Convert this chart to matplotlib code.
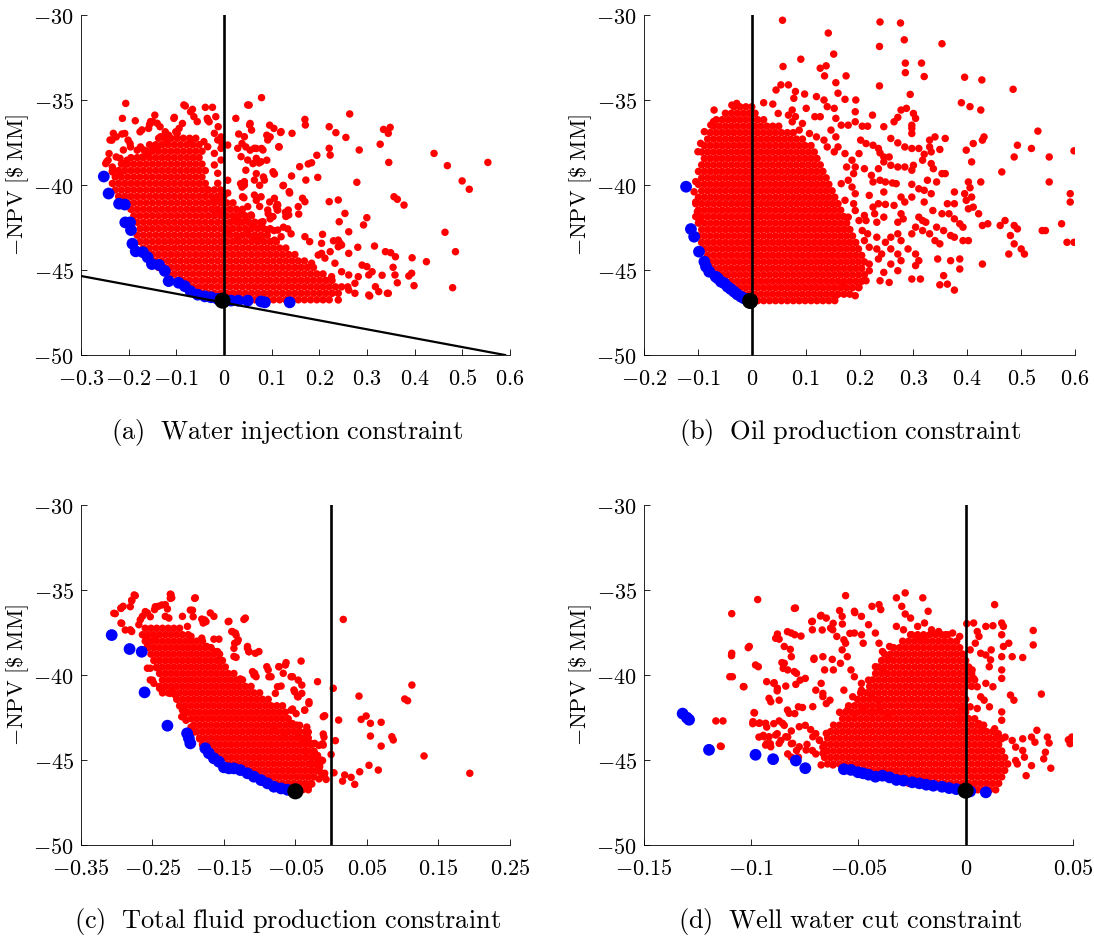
import matplotlib.pyplot as plt

plt.rcParams['mathtext.fontset'] = 'cm'
plt.rcParams['font.family'] = 'DejaVu Serif'

# ----------------------------------------------------------------------
# Perturbed control samples: constraint violation (x) against -NPV (y)
# core rows: (y, x values in units of 1e-3 / 1e-4), fringe: (x, y) pairs

core_a = [
    (-46.75, [-13, 0, 13, 26, 39, 52, 65, 78, 91, 104, 117, 130, 143, 156, 169, 182, 195, 208, 221]),
    (-46.37, [-59, -46, -33, -20, -7, 6, 19, 32, 45, 58, 71, 84, 97, 110, 123, 136, 149, 162, 175, 188, 201, 214, 227, 240]),
    (-45.99, [-78, -65, -52, -39, -26, -13, 0, 13, 26, 39, 52, 65, 78, 91, 104, 117, 130, 143, 156, 169, 182, 195, 208, 221, 234, 247, 260]),
    (-45.61, [-98, -85, -72, -59, -46, -33, -20, -7, 6, 19, 32, 45, 58, 71, 84, 97, 110, 123, 136, 149, 162, 175, 188, 201, 214, 227]),
    (-45.23, [-117, -104, -91, -78, -65, -52, -39, -26, -13, 0, 13, 26, 39, 52, 65, 78, 91, 104, 117, 130, 143, 156, 169, 182, 195, 208]),
    (-44.85, [-137, -124, -111, -98, -85, -72, -59, -46, -33, -20, -7, 6, 19, 32, 45, 58, 71, 84, 97, 110, 123, 136, 149, 162, 175, 188]),
    (-44.47, [-156, -143, -130, -117, -104, -91, -78, -65, -52, -39, -26, -13, 0, 13, 26, 39, 52, 65, 78, 91, 104, 117, 130, 143, 156, 169]),
    (-44.09, [-163, -150, -137, -124, -111, -98, -85, -72, -59, -46, -33, -20, -7, 6, 19, 32, 45, 58, 71, 84, 97, 110, 123, 136, 149]),
    (-43.71, [-169, -156, -143, -130, -117, -104, -91, -78, -65, -52, -39, -26, -13, 0, 13, 26, 39, 52, 65, 78, 91, 104, 117, 130]),
    (-43.33, [-176, -163, -150, -137, -124, -111, -98, -85, -72, -59, -46, -33, -20, -7, 6, 19, 32, 45, 58, 71, 84, 97, 110]),
    (-42.95, [-182, -169, -156, -143, -130, -117, -104, -91, -78, -65, -52, -39, -26, -13, 0, 13, 26, 39, 52, 65, 78, 91]),
    (-42.57, [-176, -163, -150, -137, -124, -111, -98, -85, -72, -59, -46, -33, -20, -7, 6, 19, 32, 45, 58, 71, 84, 97]),
    (-42.19, [-182, -169, -156, -143, -130, -117, -104, -91, -78, -65, -52, -39, -26, -13, 0, 13, 26, 39, 52, 65, 78]),
    (-41.81, [-189, -176, -163, -150, -137, -124, -111, -98, -85, -72, -59, -46, -33, -20, -7, 6, 19, 32, 45, 58]),
    (-41.43, [-195, -182, -169, -156, -143, -130, -117, -104, -91, -78, -65, -52, -39, -26, -13, 0, 13, 26, 39]),
    (-41.05, [-202, -189, -176, -163, -150, -137, -124, -111, -98, -85, -72, -59, -46, -33, -20, -7, 6, 19]),
    (-40.67, [-221, -208, -195, -182, -169, -156, -143, -130, -117, -104, -91, -78, -65, -52, -39, -26, -13, 0]),
    (-40.29, [-228, -215, -202, -189, -176, -163, -150, -137, -124, -111, -98, -85, -72, -59, -46, -33, -20, -7]),
    (-39.91, [-234, -221, -208, -195, -182, -169, -156, -143, -130, -117, -104, -91, -78, -65, -52, -39]),
    (-39.53, [-228, -215, -202, -189, -176, -163, -150, -137, -124, -111, -98, -85, -72, -59, -46]),
    (-39.15, [-234, -221, -208, -195, -182, -169, -156, -143, -130, -117, -104, -91, -78, -65, -52, -39]),
    (-38.77, [-215, -202, -189, -176, -163, -150, -137, -124, -111, -98, -85, -72, -59, -46]),
    (-38.39, [-195, -182, -169, -156, -143, -130, -117, -104, -91, -78, -65, -52]),
    (-38.01, [-163, -150, -137, -124, -111, -98, -85, -72, -59, -46]),
    (-37.63, [-156, -143, -130, -117, -104, -91, -78, -65, -52]),
    (-37.25, [-137, -124, -111, -98, -85, -72, -59]),
]

fringe_a = [
    (0.264, -35.82), (0.170, -36.14), (0.171, -36.47), (0.221, -36.57), (0.235, -36.92), (0.256, -37.2),
    (0.120, -36.86), (0.143, -36.96), (0.335, -36.73), (0.349, -36.61), (0.345, -36.96), (0.328, -37.6),
    (0.284, -37.94), (0.221, -37.84), (0.223, -38.24), (0.115, -37.75), (0.195, -38.25), (0.441, -38.14),
    (0.469, -38.86), (0.554, -38.67), (0.346, -38.67), (0.159, -38.92), (0.177, -38.76), (0.184, -38.69),
    (0.106, -39.35), (0.142, -39.47), (0.172, -39.71), (0.197, -39.55), (0.279, -39.84), (0.500, -39.76),
    (0.515, -40.25), (0.124, -40.04), (0.137, -40.39), (0.165, -40.78), (0.170, -40.98), (0.221, -40.98),
    (0.240, -40.88), (0.357, -40.69), (0.364, -40.84), (0.378, -41.18), (0.110, -41.27), (0.113, -41.47),
    (0.135, -41.47), (0.136, -41.76), (0.156, -41.27), (0.157, -41.71), (0.254, -41.67), (0.300, -41.92),
    (0.293, -42.35), (0.242, -42.16), (0.262, -42.75), (0.464, -42.78), (0.486, -43.92), (0.207, -42.9),
    (0.230, -43.28), (0.244, -43.43), (0.281, -43.66), (0.316, -43.59), (0.339, -43.92), (0.350, -43.98),
    (0.360, -44.22), (0.395, -44.28), (0.425, -44.51), (0.355, -44.84), (0.359, -45.29), (0.388, -45.35),
    (0.394, -45.19), (0.399, -45.92), (0.480, -46.04), (0.332, -45.31), (0.364, -45.75), (0.345, -46.37),
    (0.306, -46.53),
    (0.053, -35.30), (0.079, -34.86), (0.055, -36.38), (0.058, -36.77), (0.025, -36.08), (0.096, -36.48),
    (0.105, -36.67), (0.119, -36.91), (0.090, -37.07), (0.097, -37.17), (0.116, -37.76), (0.031, -37.0),
    (0.038, -37.56), (0.046, -37.76), (0.055, -37.95), (0.068, -37.85), (0.079, -37.85), (0.090, -38.54),
    (0.061, -38.74), (0.074, -38.70), (0.046, -39.13), (0.068, -39.33), (0.083, -39.53), (0.075, -40.02),
    (0.035, -39.92), (0.038, -40.12), (0.008, -39.72), (0.105, -39.33), (0.125, -40.02), (0.138, -40.47),
    (0.096, -41.0), (0.112, -41.14), (0.112, -41.46), (0.068, -40.9), (0.075, -41.26), (0.042, -40.75),
    (0.008, -40.47), (0.129, -41.6), (0.130, -41.85), (0.093, -41.69), (0.097, -41.99), (0.038, -41.69),
    (0.046, -42.09), (0.061, -42.28), (0.079, -42.28), (0.105, -42.68), (0.125, -42.48), (0.134, -42.58),
    (0.141, -42.87),
    (0.054, -36.47), (0.050, -35.29), (0.043, -37.16), (0.064, -37.84), (0.082, -37.94), (0.092, -37.35),
    (0.029, -37.84), (0.036, -38.33), (0.050, -38.53), (0.068, -38.43), (0.078, -38.63), (0.043, -39.8),
    (0.043, -40.0), (0.064, -39.71), (0.085, -39.71), (0.103, -39.22), (0.039, -40.69), (0.064, -40.59),
    (0.078, -40.69), (0.106, -40.78), (0.113, -41.18), (0.092, -41.47), (0.050, -41.27), (0.057, -41.76),
    (0.022, -41.86), (0.032, -42.16), (0.082, -42.16), (0.103, -41.86), (0.113, -42.65), (0.092, -42.65),
    (0.008, -42.65), (0.029, -43.04), (0.050, -42.65), (0.064, -43.04), (0.078, -43.14), (0.106, -43.24),
    (0.120, -43.04),
    (-0.206, -35.2), (-0.213, -36.08), (-0.186, -36.22), (-0.235, -37.36), (-0.226, -37.17), (-0.208, -36.97),
    (-0.176, -36.87), (-0.156, -36.44), (-0.149, -36.28), (-0.145, -35.89), (-0.134, -36.57), (-0.104, -36.02),
    (-0.081, -35.35), (-0.070, -35.69), (-0.066, -35.55), (-0.063, -35.98), (-0.039, -35.43), (-0.024, -35.43),
    (-0.035, -36.08), (-0.031, -36.28), (-0.017, -35.98), (-0.012, -36.57), (-0.006, -37.17), (-0.004, -37.56),
    (-0.087, -36.38), (-0.094, -36.67), (-0.101, -36.87), (-0.123, -36.87), (-0.116, -37.07), (-0.201, -37.36),
    (-0.197, -37.56), (-0.196, -37.76), (-0.241, -38.15), (-0.243, -38.54), (-0.248, -38.74), (-0.226, -38.35),
    (-0.234, -38.94), (-0.234, -39.23), (-0.218, -39.33), (-0.212, -38.74), (-0.203, -38.54), (-0.182, -37.95),
    (-0.175, -37.76), (-0.171, -38.35), (-0.160, -38.25),
    (-0.154, -36.27), (-0.140, -36.37), (-0.105, -36.08), (-0.084, -35.29), (-0.056, -36.27), (-0.034, -36.18),
    (-0.232, -36.96), (-0.214, -37.0), (-0.239, -37.35), (-0.172, -36.76), (-0.158, -36.67), (-0.133, -37.16),
    (-0.119, -37.35), (-0.098, -36.96), (-0.070, -37.35), (-0.042, -37.45), (-0.020, -36.96), (-0.013, -37.35),
    (-0.246, -38.63), (-0.218, -38.43), (-0.211, -37.94), (-0.168, -37.94), (-0.151, -37.75), (-0.140, -37.94),
    (-0.034, -37.75), (-0.020, -38.14), (-0.006, -37.84), (0.008, -37.65), (-0.006, -38.53), (-0.020, -38.82),
    (-0.013, -39.31), (-0.013, -39.9), (-0.034, -40.29), (-0.020, -40.88), (-0.006, -40.69), (-0.020, -41.47),
    (-0.006, -41.67),
    (0.205, -44.02), (0.223, -43.92), (0.240, -43.63), (0.262, -44.02), (0.290, -44.71), (0.300, -44.8),
    (0.311, -45.1), (0.282, -45.39), (0.304, -45.29), (0.275, -45.78), (0.318, -45.98), (0.325, -46.27),
    (0.304, -46.47), (0.343, -46.37), (0.262, -46.18), (0.275, -46.37), (0.240, -46.76), (0.212, -44.3),
    (0.198, -44.12), (0.184, -44.6), (0.233, -44.6), (0.247, -45.1), (0.262, -45.29), (0.226, -45.39),
    (0.170, -43.04), (0.180, -43.33), (0.205, -43.43), (0.240, -43.24), (0.247, -43.53),
]

blue_a = [
    (-0.252, -39.5), (-0.242, -40.5), (-0.220, -41.1), (-0.208, -41.15), (-0.207, -42.2), (-0.197, -42.2),
    (-0.195, -42.65), (-0.192, -43.45), (-0.185, -43.9), (-0.170, -43.95), (-0.160, -44.25), (-0.151, -44.65),
    (-0.136, -44.7), (-0.124, -45.05), (-0.116, -45.65), (-0.095, -45.75), (-0.082, -45.95), (-0.070, -46.25),
    (-0.055, -46.45), (-0.040, -46.55), (-0.027, -46.6), (-0.013, -46.7), (0.015, -46.8), (0.030, -46.8),
    (0.050, -46.8), (0.078, -46.85), (0.086, -46.9), (0.138, -46.9),
]

core_b = [
    (-46.8, [0, 11, 22, 33, 44, 55, 66, 77, 88, 99, 110, 121, 132, 143, 154]),
    (-46.42, [-16, -5, 6, 17, 28, 39, 50, 61, 72, 83, 94, 105, 116, 127, 138, 149, 160, 171, 182]),
    (-46.04, [-33, -22, -11, 0, 11, 22, 33, 44, 55, 66, 77, 88, 99, 110, 121, 132, 143, 154, 165, 176, 187, 198]),
    (-45.66, [-49, -38, -27, -16, -5, 6, 17, 28, 39, 50, 61, 72, 83, 94, 105, 116, 127, 138, 149, 160, 171, 182, 193, 204]),
    (-45.28, [-55, -44, -33, -22, -11, 0, 11, 22, 33, 44, 55, 66, 77, 88, 99, 110, 121, 132, 143, 154, 165, 176, 187, 198, 209]),
    (-44.9, [-71, -60, -49, -38, -27, -16, -5, 6, 17, 28, 39, 50, 61, 72, 83, 94, 105, 116, 127, 138, 149, 160, 171, 182, 193, 204]),
    (-44.52, [-77, -66, -55, -44, -33, -22, -11, 0, 11, 22, 33, 44, 55, 66, 77, 88, 99, 110, 121, 132, 143, 154, 165, 176, 187, 198, 209]),
    (-44.14, [-82, -71, -60, -49, -38, -27, -16, -5, 6, 17, 28, 39, 50, 61, 72, 83, 94, 105, 116, 127, 138, 149, 160, 171, 182, 193, 204]),
    (-43.76, [-88, -77, -66, -55, -44, -33, -22, -11, 0, 11, 22, 33, 44, 55, 66, 77, 88, 99, 110, 121, 132, 143, 154, 165, 176, 187, 198]),
    (-43.38, [-93, -82, -71, -60, -49, -38, -27, -16, -5, 6, 17, 28, 39, 50, 61, 72, 83, 94, 105, 116, 127, 138, 149, 160, 171, 182, 193]),
    (-43.0, [-99, -88, -77, -66, -55, -44, -33, -22, -11, 0, 11, 22, 33, 44, 55, 66, 77, 88, 99, 110, 121, 132, 143, 154, 165, 176, 187]),
    (-42.62, [-93, -82, -71, -60, -49, -38, -27, -16, -5, 6, 17, 28, 39, 50, 61, 72, 83, 94, 105, 116, 127, 138, 149, 160, 171, 182]),
    (-42.24, [-99, -88, -77, -66, -55, -44, -33, -22, -11, 0, 11, 22, 33, 44, 55, 66, 77, 88, 99, 110, 121, 132, 143, 154, 165, 176]),
    (-41.86, [-104, -93, -82, -71, -60, -49, -38, -27, -16, -5, 6, 17, 28, 39, 50, 61, 72, 83, 94, 105, 116, 127, 138, 149, 160, 171]),
    (-41.48, [-99, -88, -77, -66, -55, -44, -33, -22, -11, 0, 11, 22, 33, 44, 55, 66, 77, 88, 99, 110, 121, 132, 143, 154, 165]),
    (-41.1, [-104, -93, -82, -71, -60, -49, -38, -27, -16, -5, 6, 17, 28, 39, 50, 61, 72, 83, 94, 105, 116, 127, 138, 149, 160]),
    (-40.72, [-99, -88, -77, -66, -55, -44, -33, -22, -11, 0, 11, 22, 33, 44, 55, 66, 77, 88, 99, 110, 121, 132, 143, 154]),
    (-40.34, [-93, -82, -71, -60, -49, -38, -27, -16, -5, 6, 17, 28, 39, 50, 61, 72, 83, 94, 105, 116, 127, 138, 149]),
    (-39.96, [-99, -88, -77, -66, -55, -44, -33, -22, -11, 0, 11, 22, 33, 44, 55, 66, 77, 88, 99, 110, 121, 132, 143]),
    (-39.58, [-93, -82, -71, -60, -49, -38, -27, -16, -5, 6, 17, 28, 39, 50, 61, 72, 83, 94, 105, 116, 127, 138]),
    (-39.2, [-99, -88, -77, -66, -55, -44, -33, -22, -11, 0, 11, 22, 33, 44, 55, 66, 77, 88, 99, 110, 121, 132]),
    (-38.82, [-93, -82, -71, -60, -49, -38, -27, -16, -5, 6, 17, 28, 39, 50, 61, 72, 83, 94, 105, 116, 127]),
    (-38.44, [-88, -77, -66, -55, -44, -33, -22, -11, 0, 11, 22, 33, 44, 55, 66, 77, 88, 99, 110, 121]),
    (-38.06, [-93, -82, -71, -60, -49, -38, -27, -16, -5, 6, 17, 28, 39, 50, 61, 72, 83, 94, 105, 116]),
    (-37.68, [-88, -77, -66, -55, -44, -33, -22, -11, 0, 11, 22, 33, 44, 55, 66, 77, 88, 99, 110]),
    (-37.3, [-82, -71, -60, -49, -38, -27, -16, -5, 6, 17, 28, 39, 50, 61, 72, 83, 94]),
    (-36.92, [-77, -66, -55, -44, -33, -22, -11, 0, 11, 22, 33, 44, 55, 66, 77]),
    (-36.54, [-71, -60, -49, -38, -27, -16, -5, 6, 17, 28, 39, 50]),
    (-36.16, [-66, -55, -44, -33, -22, -11, 0, 11, 22]),
    (-35.78, [-49, -38, -27, -16, -5, 6]),
    (-35.4, [-33, -22, -11, 0]),
]

fringe_b = [
    (0.057, -30.31), (0.238, -30.41), (0.276, -30.47), (0.142, -31.06), (0.283, -31.46), (0.353, -31.69),
    (0.237, -31.85), (0.152, -32.30), (0.091, -32.60), (0.285, -32.83), (0.315, -32.83), (0.058, -33.03),
    (0.127, -33.13), (0.138, -32.99), (0.135, -33.58), (0.285, -33.39), (0.320, -33.62), (0.175, -33.58),
    (0.395, -33.66), (0.427, -33.82), (0.156, -33.98), (0.237, -34.17), (0.054, -34.11), (0.068, -34.11),
    (0.045, -34.41), (0.081, -34.5), (0.098, -34.65), (0.078, -34.9), (0.485, -34.37), (0.160, -34.6),
    (0.173, -34.96), (0.193, -35.0), (0.294, -34.67), (0.120, -34.8), (0.134, -35.0), (0.140, -35.39),
    (0.389, -35.16), (0.405, -35.39), (0.425, -35.59), (0.022, -35.16), (0.039, -35.24), (0.049, -35.79),
    (0.075, -35.59), (0.101, -35.49), (0.117, -35.98), (0.127, -35.98), (0.153, -35.49), (0.156, -36.08),
    (0.192, -35.69), (0.192, -36.28), (0.224, -35.89), (0.277, -35.59), (0.287, -35.49), (0.300, -35.79),
    (0.304, -36.08), (0.264, -36.28), (0.271, -36.02), (0.245, -36.57), (0.166, -36.48), (0.179, -36.48),
    (0.205, -36.54), (0.215, -36.54), (0.297, -36.48), (0.297, -36.67), (0.297, -36.97), (0.531, -36.83),
    (0.340, -37.17), (0.359, -37.26), (0.330, -37.36), (0.258, -37.26), (0.271, -37.52), (0.284, -37.76),
    (0.297, -37.85), (0.310, -37.85), (0.431, -37.17), (0.428, -37.36), (0.411, -37.56), (0.202, -37.36),
    (0.212, -37.56), (0.225, -37.66), (0.235, -37.85), (0.493, -37.66), (0.519, -37.85), (0.598, -37.99),
    (0.552, -38.35), (0.330, -37.76), (0.333, -38.05), (0.320, -38.19), (0.349, -37.91), (0.487, -38.35),
    (0.199, -38.15), (0.238, -38.11), (0.255, -38.35), (0.317, -38.54), (0.333, -38.74), (0.337, -39.04),
    (0.300, -38.84), (0.297, -39.13), (0.245, -38.64), (0.258, -38.84), (0.271, -38.94), (0.284, -38.94),
    (0.464, -39.23), (0.408, -38.64), (0.398, -37.95), (0.353, -39.33), (0.359, -39.33), (0.326, -39.72),
    (0.343, -39.82), (0.192, -38.94), (0.209, -39.04), (0.222, -39.43), (0.225, -39.82), (0.238, -39.72),
    (0.248, -39.82), (0.261, -39.88), (0.552, -39.82), (0.425, -39.82), (0.402, -39.82), (0.405, -40.16),
    (0.268, -39.92), (0.297, -39.96), (0.376, -40.41), (0.376, -41.1), (0.408, -40.71), (0.411, -41.3),
    (0.297, -40.71), (0.277, -40.71), (0.284, -41.0), (0.218, -40.61), (0.245, -40.41), (0.591, -40.51),
    (0.591, -41.0), (0.320, -41.0), (0.336, -41.5), (0.353, -41.69), (0.363, -41.1), (0.366, -41.69),
    (0.235, -41.1), (0.248, -41.14), (0.264, -41.2), (0.225, -41.3), (0.228, -41.69), (0.245, -41.89),
    (0.421, -41.69), (0.376, -41.99), (0.386, -42.28), (0.392, -42.48), (0.310, -41.89), (0.317, -42.09),
    (0.323, -42.19), (0.438, -42.28), (0.428, -42.38), (0.461, -42.38), (0.470, -42.09), (0.487, -42.38),
    (0.493, -42.58), (0.539, -42.68), (0.545, -42.68), (0.575, -42.28), (0.585, -43.37), (0.598, -43.37),
    (0.277, -41.69), (0.281, -41.99), (0.271, -42.19), (0.304, -42.48), (0.317, -42.68), (0.297, -42.87),
    (0.271, -42.87), (0.258, -43.07), (0.277, -43.27), (0.330, -42.87), (0.340, -43.27), (0.349, -43.46),
    (0.376, -43.07), (0.392, -43.27), (0.402, -43.27), (0.480, -42.97), (0.487, -43.46), (0.500, -43.76),
    (0.506, -44.06), (0.477, -44.06), (0.345, -44.35), (0.369, -44.45), (0.386, -44.35), (0.386, -44.94),
    (0.428, -44.65), (0.310, -44.45), (0.304, -44.74), (0.356, -45.33), (0.363, -45.83), (0.349, -45.87),
    (0.376, -46.18), (0.297, -45.53), (0.313, -45.53), (0.271, -45.04), (0.258, -44.65), (0.277, -44.45),
    (0.245, -45.14), (0.238, -45.63), (0.255, -45.73), (0.218, -44.65), (0.218, -45.04), (0.212, -45.63),
    (0.199, -46.02), (0.192, -46.51), (0.156, -46.51), (0.170, -45.93), (0.271, -44.06), (0.258, -43.76),
    (0.241, -44.06), (0.235, -44.35), (0.248, -43.37), (0.290, -43.76), (0.304, -44.06), (0.343, -42.48),
    (0.356, -42.68), (0.369, -42.97), (0.205, -42.68), (0.215, -42.87), (0.232, -43.07), (0.209, -43.27),
    (0.218, -43.66), (0.232, -43.76), (0.209, -41.79), (0.212, -42.09), (0.232, -42.19), (0.402, -41.4),
    (0.398, -40.9), (0.395, -40.51), (0.333, -40.51), (0.320, -40.31), (0.310, -40.22), (0.245, -38.35),
    (0.235, -39.04), (0.160, -37.76), (0.173, -38.15), (0.186, -38.54), (0.176, -38.94), (0.189, -39.33),
    (0.179, -39.72), (0.166, -39.92), (0.186, -40.12), (0.192, -40.51), (0.173, -40.9), (0.189, -41.1),
    (0.192, -41.5), (0.179, -41.89), (0.199, -42.09), (0.107, -36.97), (0.120, -37.17), (0.134, -37.36),
    (0.140, -37.76), (0.153, -38.05), (0.094, -36.38), (0.088, -36.77), (0.075, -36.28), (0.147, -36.77),
    (0.156, -37.17), (0.068, -35.89), (0.081, -35.98),
    (-0.070, -35.59), (-0.037, -35.3), (-0.028, -35.2), (-0.100, -38.04), (-0.095, -37.55), (-0.088, -36.86),
    (-0.076, -36.47), (-0.071, -36.27), (-0.104, -39.8), (-0.107, -40.4), (-0.104, -41.0), (-0.101, -41.57),
    (-0.098, -42.16),
]

blue_b = [
    (-0.122, -40.1), (-0.113, -42.59), (-0.107, -43.04), (-0.098, -43.92), (-0.088, -44.51), (-0.085, -44.8),
    (-0.079, -45.1), (-0.067, -45.39), (-0.063, -45.49), (-0.057, -45.69), (-0.051, -45.78), (-0.045, -45.98),
    (-0.039, -46.12), (-0.033, -46.27), (-0.027, -46.43), (-0.020, -46.57), (-0.014, -46.67),
]

core_c = [
    (-46.75, [-72, -64, -56, -48, -40, -32]),
    (-46.37, [-84, -76, -68, -60, -52, -44, -36, -28]),
    (-45.99, [-104, -96, -88, -80, -72, -64, -56, -48, -40, -32, -24]),
    (-45.61, [-124, -116, -108, -100, -92, -84, -76, -68, -60, -52, -44, -36, -28, -20]),
    (-45.23, [-144, -136, -128, -120, -112, -104, -96, -88, -80, -72, -64, -56, -48, -40, -32, -24, -16]),
    (-44.85, [-156, -148, -140, -132, -124, -116, -108, -100, -92, -84, -76, -68, -60, -52, -44, -36, -28, -20]),
    (-44.47, [-168, -160, -152, -144, -136, -128, -120, -112, -104, -96, -88, -80, -72, -64, -56, -48, -40, -32, -24]),
    (-44.09, [-180, -172, -164, -156, -148, -140, -132, -124, -116, -108, -100, -92, -84, -76, -68, -60, -52, -44, -36, -28]),
    (-43.71, [-184, -176, -168, -160, -152, -144, -136, -128, -120, -112, -104, -96, -88, -80, -72, -64, -56, -48, -40, -32]),
    (-43.33, [-188, -180, -172, -164, -156, -148, -140, -132, -124, -116, -108, -100, -92, -84, -76, -68, -60, -52, -44, -36]),
    (-42.95, [-192, -184, -176, -168, -160, -152, -144, -136, -128, -120, -112, -104, -96, -88, -80, -72, -64, -56, -48]),
    (-42.57, [-196, -188, -180, -172, -164, -156, -148, -140, -132, -124, -116, -108, -100, -92, -84, -76, -68, -60]),
    (-42.19, [-200, -192, -184, -176, -168, -160, -152, -144, -136, -128, -120, -112, -104, -96, -88, -80, -72, -64]),
    (-41.81, [-212, -204, -196, -188, -180, -172, -164, -156, -148, -140, -132, -124, -116, -108, -100, -92, -84, -76, -68]),
    (-41.43, [-216, -208, -200, -192, -184, -176, -168, -160, -152, -144, -136, -128, -120, -112, -104, -96, -88]),
    (-41.05, [-236, -228, -220, -212, -204, -196, -188, -180, -172, -164, -156, -148, -140, -132, -124, -116, -108, -100]),
    (-40.67, [-240, -232, -224, -216, -208, -200, -192, -184, -176, -168, -160, -152, -144, -136, -128, -120, -112]),
    (-40.29, [-236, -228, -220, -212, -204, -196, -188, -180, -172, -164, -156, -148, -140, -132, -124]),
    (-39.91, [-240, -232, -224, -216, -208, -200, -192, -184, -176, -168, -160, -152, -144, -136]),
    (-39.53, [-244, -236, -228, -220, -212, -204, -196, -188, -180, -172, -164, -156, -148]),
    (-39.15, [-248, -240, -232, -224, -216, -208, -200, -192, -184, -176, -168, -160, -152]),
    (-38.77, [-252, -244, -236, -228, -220, -212, -204, -196, -188, -180, -172, -164, -156]),
    (-38.39, [-256, -248, -240, -232, -224, -216, -208, -200, -192, -184, -176, -168]),
    (-38.01, [-260, -252, -244, -236, -228, -220, -212, -204, -196, -188, -180]),
    (-37.63, [-264, -256, -248, -240, -232, -224, -216, -208, -200]),
    (-37.25, [-260, -252, -244, -236, -228, -220, -212]),
]

fringe_c = [
    (-0.302, -36.39), (-0.294, -36.06), (-0.291, -35.96), (-0.279, -35.6), (-0.274, -35.33), (-0.294, -36.94),
    (-0.281, -37.34), (-0.279, -37.44), (-0.269, -37.04), (-0.267, -36.75), (-0.264, -36.55), (-0.257, -36.35),
    (-0.247, -36.15), (-0.242, -35.96), (-0.232, -35.86), (-0.229, -36.11), (-0.224, -35.27), (-0.223, -35.46),
    (-0.232, -36.55), (-0.227, -36.65), (-0.208, -36.55), (-0.201, -37.14), (-0.190, -35.46), (-0.194, -36.19),
    (-0.181, -36.71), (-0.179, -36.84), (-0.143, -36.84), (-0.139, -37.44), (-0.134, -37.53), (-0.130, -37.93),
    (-0.135, -38.13), (-0.120, -36.65), (-0.117, -38.32), (-0.115, -38.62), (-0.136, -38.91), (-0.164, -37.89),
    (-0.157, -37.89), (-0.174, -38.32), (-0.159, -38.62), (-0.181, -37.83), (-0.196, -37.73), (-0.259, -37.93),
    (-0.257, -38.32), (-0.247, -37.83), (-0.257, -39.6), (-0.250, -40.3), (-0.248, -40.49), (-0.237, -40.79),
    (-0.223, -40.99), (-0.218, -41.18), (-0.208, -42.07), (-0.206, -42.47), (-0.203, -42.66), (-0.196, -43.06),
    (-0.191, -43.35), (-0.184, -43.75), (-0.110, -39.8), (-0.108, -40.0), (-0.090, -39.51), (-0.087, -40.1),
    (-0.073, -39.51), (-0.064, -39.41), (-0.067, -39.9), (-0.054, -40.1), (-0.046, -40.3), (-0.046, -41.28),
    (-0.051, -40.99), (-0.041, -41.08), (-0.056, -42.07), (-0.049, -42.27), (-0.037, -42.07), (-0.031, -41.68),
    (-0.041, -40.59), (-0.019, -40.39), (-0.054, -42.86), (-0.044, -42.96), (-0.034, -43.06), (-0.032, -43.35),
    (-0.046, -43.65), (-0.037, -43.85), (-0.027, -44.04), (-0.017, -44.14), (-0.012, -44.04), (-0.010, -43.65),
    (-0.019, -44.73), (-0.012, -45.03), (-0.022, -45.23), (-0.015, -45.72), (-0.010, -45.92), (-0.017, -46.11),
    (-0.027, -46.41), (-0.032, -46.61), (-0.106, -38.72), (-0.101, -38.62), (-0.169, -36.35), (-0.164, -36.55),
    (-0.179, -36.94),
    (0.017, -36.73), (-0.042, -39.18), (-0.063, -39.27), (-0.073, -39.51), (-0.056, -40.1), (0.003, -40.78),
    (-0.070, -40.65), (-0.052, -40.88), (-0.047, -41.27), (0.039, -41.24), (0.113, -40.59), (0.103, -41.41),
    (0.107, -41.51), (-0.031, -41.57), (-0.037, -42.06), (-0.054, -42.0), (-0.009, -42.39), (0.0105, -42.65),
    (0.042, -42.61), (0.049, -42.41), (0.055, -42.84), (0.070, -42.78), (0.055, -43.59), (0.085, -43.63),
    (0.087, -43.82), (0.070, -44.18), (0.006, -43.86), (-0.011, -43.47), (-0.011, -44.12), (-0.023, -44.02),
    (-0.033, -43.63), (0.0, -44.67), (0.130, -44.76), (0.194, -45.78), (0.053, -45.31), (0.066, -45.59),
    (0.040, -45.69), (0.004, -45.75), (0.016, -46.24), (0.028, -46.02), (0.033, -46.43), (0.019, -45.88),
    (-0.009, -45.78), (-0.007, -46.14), (-0.016, -45.39), (-0.028, -45.2), (-0.014, -45.0), (-0.035, -44.51),
    (-0.023, -44.61), (-0.080, -43.24), (-0.066, -43.63), (-0.056, -42.84), (-0.011, -42.45),
    (-0.2755, -35.29), (-0.279, -35.63), (-0.225, -35.24), (-0.225, -35.49), (-0.191, -35.49), (-0.304, -36.37),
    (-0.294, -36.08), (-0.293, -36.96), (-0.288, -37.35), (-0.281, -35.98), (-0.246, -35.98), (-0.237, -35.88),
    (-0.260, -36.27), (-0.253, -36.57), (-0.197, -36.18), (-0.193, -36.57), (-0.177, -36.76), (-0.175, -36.86),
    (-0.144, -36.86), (-0.122, -36.73), (-0.138, -37.45), (-0.133, -37.65), (-0.131, -38.04), (-0.136, -38.43),
    (-0.117, -38.43), (-0.115, -38.63), (-0.133, -38.96), (-0.127, -40.23), (-0.107, -39.9), (-0.105, -40.1),
    (-0.088, -39.7), (-0.084, -40.1), (-0.162, -38.63), (-0.156, -39.12), (-0.253, -39.6), (-0.244, -39.57),
    (-0.240, -40.78), (-0.225, -41.08), (-0.253, -40.29), (-0.204, -42.16), (-0.209, -42.45), (-0.075, -40.69),
    (-0.078, -41.08),
]

blue_c = [
    (-0.307, -37.65), (-0.282, -38.47), (-0.265, -38.63), (-0.261, -41.02), (-0.229, -42.98), (-0.2015, -43.43),
    (-0.199, -43.72), (-0.197, -44.02), (-0.176, -44.31), (-0.171, -44.6), (-0.164, -44.9), (-0.157, -45.1),
    (-0.150, -45.43), (-0.143, -45.49), (-0.136, -45.49), (-0.127, -45.59), (-0.117, -45.78), (-0.108, -45.98),
    (-0.098, -46.18), (-0.089, -46.37), (-0.080, -46.57), (-0.070, -46.67), (-0.061, -46.75),
]

core_d = [
    (-46.75, [0, 28, 56, 84, 112, 140]),
    (-46.37, [-266, -238, -210, -182, -154, -126, -98, -70, -42, -14, 14, 42, 70, 98, 126, 154]),
    (-45.99, [-420, -392, -364, -336, -308, -280, -252, -224, -196, -168, -140, -112, -84, -56, -28, 0, 28, 56, 84, 112, 140, 168]),
    (-45.61, [-518, -490, -462, -434, -406, -378, -350, -322, -294, -266, -238, -210, -182, -154, -126, -98, -70, -42, -14, 14, 42, 70, 98, 126, 154, 182]),
    (-45.23, [-644, -616, -588, -560, -532, -504, -476, -448, -420, -392, -364, -336, -308, -280, -252, -224, -196, -168, -140, -112, -84, -56, -28, 0, 28, 56, 84, 112, 140, 168, 196]),
    (-44.85, [-658, -630, -602, -574, -546, -518, -490, -462, -434, -406, -378, -350, -322, -294, -266, -238, -210, -182, -154, -126, -98, -70, -42, -14, 14, 42, 70, 98, 126, 154, 182]),
    (-44.47, [-644, -616, -588, -560, -532, -504, -476, -448, -420, -392, -364, -336, -308, -280, -252, -224, -196, -168, -140, -112, -84, -56, -28, 0, 28, 56, 84, 112, 140, 168]),
    (-44.09, [-658, -630, -602, -574, -546, -518, -490, -462, -434, -406, -378, -350, -322, -294, -266, -238, -210, -182, -154, -126, -98, -70, -42, -14, 14, 42, 70, 98, 126, 154]),
    (-43.71, [-644, -616, -588, -560, -532, -504, -476, -448, -420, -392, -364, -336, -308, -280, -252, -224, -196, -168, -140, -112, -84, -56, -28, 0, 28, 56, 84, 112, 140]),
    (-43.33, [-630, -602, -574, -546, -518, -490, -462, -434, -406, -378, -350, -322, -294, -266, -238, -210, -182, -154, -126, -98, -70, -42, -14, 14, 42, 70, 98, 126]),
    (-42.95, [-616, -588, -560, -532, -504, -476, -448, -420, -392, -364, -336, -308, -280, -252, -224, -196, -168, -140, -112, -84, -56, -28, 0, 28, 56, 84]),
    (-42.57, [-574, -546, -518, -490, -462, -434, -406, -378, -350, -322, -294, -266, -238, -210, -182, -154, -126, -98, -70, -42, -14, 14, 42]),
    (-42.19, [-588, -560, -532, -504, -476, -448, -420, -392, -364, -336, -308, -280, -252, -224, -196, -168, -140, -112, -84, -56, -28, 0]),
    (-41.81, [-546, -518, -490, -462, -434, -406, -378, -350, -322, -294, -266, -238, -210, -182, -154, -126, -98, -70, -42, -14]),
    (-41.43, [-504, -476, -448, -420, -392, -364, -336, -308, -280, -252, -224, -196, -168, -140, -112, -84, -56, -28, 0]),
    (-41.05, [-490, -462, -434, -406, -378, -350, -322, -294, -266, -238, -210, -182, -154, -126, -98, -70, -42, -14]),
    (-40.67, [-448, -420, -392, -364, -336, -308, -280, -252, -224, -196, -168, -140, -112, -84, -56, -28, 0, 28]),
    (-40.29, [-434, -406, -378, -350, -322, -294, -266, -238, -210, -182, -154, -126, -98, -70, -42, -14, 14, 42]),
    (-39.91, [-420, -392, -364, -336, -308, -280, -252, -224, -196, -168, -140, -112, -84, -56, -28, 0, 28]),
    (-39.53, [-406, -378, -350, -322, -294, -266, -238, -210, -182, -154, -126, -98, -70, -42, -14, 14]),
    (-39.15, [-392, -364, -336, -308, -280, -252, -224, -196, -168, -140, -112, -84, -56, -28, 0]),
    (-38.77, [-378, -350, -322, -294, -266, -238, -210, -182, -154, -126, -98, -70, -42, -14]),
    (-38.39, [-336, -308, -280, -252, -224, -196, -168, -140, -112, -84, -56, -28]),
    (-38.01, [-294, -266, -238, -210, -182, -154, -126, -98, -70, -42]),
    (-37.63, [-252, -224, -196, -168, -140, -112, -84]),
]

fringe_d = [
    (-0.1091, -36.39), (-0.0970, -35.56), (-0.0794, -36.06), (-0.0674, -36.49), (-0.0715, -36.84), (-0.0715, -37.34),
    (-0.063, -37.24), (-0.062, -37.34), (-0.065, -36.65), (-0.0576, -36.55), (-0.056, -35.33), (-0.0519, -36.25),
    (-0.0437, -35.96), (-0.0404, -35.86), (-0.0396, -36.15), (-0.0323, -35.46), (-0.0298, -35.96), (-0.0282, -36.41),
    (-0.0282, -35.17), (-0.0200, -35.46), (-0.0175, -36.25), (-0.0257, -36.65), (-0.0192, -36.94), (-0.0224, -37.14),
    (0.0135, -35.86), (0.0005, -36.98), (0.0037, -36.94), (0.0054, -37.44), (0.0094, -37.14), (0.0127, -37.1),
    (0.0168, -36.94), (0.0176, -37.14), (0.0168, -37.63), (0.0176, -38.32), (0.0201, -38.13), (0.0315, -37.38),
    (0.0315, -38.23), (0.0266, -38.97), (0.0217, -38.92), (0.0168, -38.92), (0.0116, -39.11), (0.0353, -41.12),
    (0.0168, -39.7), (0.0168, -40.2), (0.0127, -40.69), (0.0209, -41.18), (0.0225, -41.48), (0.0086, -41.48),
    (0.0111, -41.87), (0.0168, -42.17), (0.0168, -42.66), (0.0135, -43.16), (0.0152, -43.45), (0.0184, -43.65),
    (0.0217, -43.85), (0.0233, -44.24), (0.0266, -43.75), (0.0307, -43.65), (0.0323, -43.95), (0.0266, -44.44),
    (0.0274, -44.83), (0.0233, -45.03), (0.0241, -45.23), (0.0307, -45.33), (0.0282, -45.92), (0.0364, -44.93),
    (0.0372, -44.54), (0.0381, -43.65), (0.0389, -44.0), (0.0397, -45.48), (0.0479, -43.81), (0.0487, -44.04),
    (0.0495, -43.65), (0.0332, -43.25), (0.0168, -43.75), (0.0062, -42.86), (0.0078, -43.25), (0.0021, -41.87),
    (0.0054, -41.97), (-0.002, -42.07), (-0.0028, -42.62), (0.0054, -40.69), (0.0070, -41.28), (0.0094, -40.49),
    (0.003, -39.7), (0.0037, -40.2), (0.011, -39.51), (0.0070, -38.72), (0.0094, -38.82), (0.0119, -38.52),
    (0.0021, -38.52), (0.0045, -38.13), (0.0062, -37.73),
    (-0.1165, -42.70), (-0.1132, -42.70), (-0.1140, -44.2), (-0.1091, -38.72), (-0.1088, -40.1), (-0.1034, -40.69),
    (-0.1009, -38.32), (-0.098, -39.41), (-0.0985, -42.23), (-0.0993, -42.86), (-0.096, -42.82), (-0.0928, -43.06),
    (-0.0895, -42.86), (-0.0870, -42.70), (-0.0846, -42.96), (-0.0964, -43.65), (-0.0944, -43.55), (-0.0928, -44.04),
    (-0.0911, -44.04), (-0.0879, -43.45), (-0.0862, -43.85), (-0.083, -43.65), (-0.0813, -43.29), (-0.0928, -40.39),
    (-0.0895, -40.49), (-0.0879, -40.93), (-0.087, -41.48), (-0.0846, -39.31), (-0.083, -39.7), (-0.0813, -38.92),
    (-0.087, -37.89), (-0.0846, -38.32), (-0.0813, -37.53), (-0.0797, -37.63), (-0.0789, -39.9), (-0.0772, -40.3),
    (-0.0748, -40.2), (-0.078, -41.87), (-0.0761, -41.91), (-0.0797, -42.27), (-0.0748, -42.96), (-0.0723, -43.21),
    (-0.0699, -43.45), (-0.0682, -43.85), (-0.0666, -44.24), (-0.0666, -44.6), (-0.0813, -44.04), (-0.0789, -44.44),
    (-0.083, -44.64), (-0.0813, -44.83), (-0.078, -44.83), (-0.074, -44.08), (-0.0715, -44.44), (-0.0699, -44.64),
    (-0.0707, -39.01), (-0.0666, -38.92), (-0.0658, -39.7), (-0.0674, -40.49), (-0.0699, -40.89), (-0.0666, -41.08),
    (-0.065, -41.68), (-0.0633, -41.48), (-0.0617, -39.7), (-0.0584, -39.31), (-0.0552, -38.92), (-0.0576, -38.52),
    (-0.0601, -37.73), (-0.0568, -37.93), (-0.056, -38.13), (-0.0519, -37.53), (-0.0486, -37.63), (-0.0478, -38.13),
    (-0.0486, -36.55), (-0.0453, -37.04), (-0.0421, -37.53), (-0.0404, -38.13), (-0.0388, -38.62), (-0.0355, -38.32),
    (-0.0535, -39.7), (-0.0519, -40.1), (-0.0486, -40.49), (-0.0453, -40.3), (-0.0421, -39.51), (-0.0388, -39.7),
    (-0.0363, -39.11), (-0.0568, -40.89), (-0.0527, -41.28), (-0.0486, -40.89), (-0.0437, -41.08), (-0.0404, -41.48),
    (-0.0552, -42.07), (-0.0519, -42.27), (-0.0478, -41.97), (-0.0437, -42.17), (-0.0404, -42.07), (-0.0363, -42.27),
    (-0.0323, -37.14), (-0.029, -37.34), (-0.0257, -37.63), (-0.0224, -37.73), (-0.0192, -37.93), (-0.0159, -37.34),
    (-0.0126, -37.44), (-0.0094, -37.63), (-0.0061, -37.53), (-0.0028, -37.73),
    (-0.0799, -36.08), (-0.1014, -38.39), (-0.1092, -38.86), (-0.0967, -39.51), (-0.1100, -40.1), (-0.1037, -40.68),
    (-0.1144, -44.18), (-0.0677, -36.53), (-0.0588, -36.21), (-0.0517, -36.33), (-0.0718, -36.86), (-0.0669, -37.35),
    (-0.0618, -36.96), (-0.0575, -37.0), (-0.0540, -37.55), (-0.0878, -37.59), (-0.0831, -37.45), (-0.0886, -37.84),
    (-0.0768, -37.71), (-0.0818, -38.49), (-0.0708, -39.08), (-0.0622, -39.08), (-0.0857, -39.27), (-0.0851, -39.61),
    (-0.0799, -39.8), (-0.0893, -40.45), (-0.0878, -40.78), (-0.0839, -40.65), (-0.0792, -40.55), (-0.0917, -41.37),
    (-0.0909, -41.57), (-0.0831, -42.06), (-0.0823, -42.25), (-0.0987, -42.21), (-0.0992, -42.74), (-0.0964, -42.84),
    (-0.0933, -42.84), (-0.0854, -42.84), (-0.0776, -43.04), (-0.0713, -41.86), (-0.0666, -41.27), (-0.0940, -43.63),
    (-0.0917, -43.63), (-0.0886, -43.53), (-0.0870, -44.02), (-0.0933, -44.12), (-0.0909, -44.22), (-0.0839, -43.63),
    (-0.0807, -44.02), (-0.0776, -44.22), (-0.0744, -44.41), (-0.0713, -43.63), (-0.0682, -43.82), (-0.0650, -43.43),
    (-0.0674, -45.29), (-0.0619, -45.29),
]

blue_d = [
    (-0.132, -42.27), (-0.130, -42.51), (-0.129, -42.63), (-0.1197, -44.40), (-0.098, -44.69), (-0.0898, -44.95),
    (-0.0792, -45.03), (-0.0748, -45.48), (-0.0568, -45.54), (-0.0535, -45.58), (-0.0502, -45.72), (-0.0478, -45.78),
    (-0.0453, -45.86), (-0.0421, -45.98), (-0.0388, -45.92), (-0.0355, -46.02), (-0.0323, -46.17), (-0.029, -46.21),
    (-0.0249, -46.31), (-0.0216, -46.37), (-0.0184, -46.45), (-0.0151, -46.51), (-0.011, -46.57), (-0.0077, -46.65),
    (-0.0044, -46.71), (-0.0012, -46.77), (0.0021, -46.84), (0.0094, -46.90),
]

# base (unperturbed) controls
base_a = (-0.003, -46.8)
base_b = (-0.003, -46.82)
base_c = (-0.050, -46.84)
base_d = (0.0, -46.8)

# constraint boundaries
bound_x = [0.0, 0.0, 0.0, 0.0]
slope_line_a = ([-0.3, 0.59], [-45.35, -50.0])

xticks_a = [-0.3, -0.2, -0.1, 0, 0.1, 0.2, 0.3, 0.4, 0.5, 0.6]
xticks_b = [-0.2, -0.1, 0, 0.1, 0.2, 0.3, 0.4, 0.5, 0.6]
xticks_c = [-0.35, -0.25, -0.15, -0.05, 0.05, 0.15, 0.25]
xticks_d = [-0.15, -0.1, -0.05, 0, 0.05]
yticks = [-50, -45, -40, -35, -30]

captions = ['(a)\\ \\ Water\\ injection\\ constraint',
            '(b)\\ \\ Oil\\ production\\ constraint',
            '(c)\\ \\ Total\\ fluid\\ production\\ constraint',
            '(d)\\ \\ Well\\ water\\ cut\\ constraint']


def expand(rows, fringe, unit):
    xs, ys = [], []
    for y, row in rows:
        xs += [v * unit for v in row]
        ys += [y] * len(row)
    xs += [p[0] for p in fringe]
    ys += [p[1] for p in fringe]
    return xs, ys


fig = plt.figure(figsize=(10.94, 9.38), dpi=100)

panels = [
    ([0.074, 0.6215, 0.392, 0.3625], core_a, fringe_a, 1e-3, blue_a, base_a, xticks_a, (-0.3, 0.6)),
    ([0.5887, 0.6215, 0.394, 0.3625], core_b, fringe_b, 1e-3, blue_b, base_b, xticks_b, (-0.2, 0.6)),
    ([0.074, 0.0991, 0.392, 0.3625], core_c, fringe_c, 1e-3, blue_c, base_c, xticks_c, (-0.35, 0.25)),
    ([0.5887, 0.0991, 0.392, 0.3625], core_d, fringe_d, 1e-4, blue_d, base_d, xticks_d, (-0.15, 0.05)),
]
cap_pos = [(0.2623, 0.5394), (0.777, 0.5394), (0.2623, 0.0171), (0.777, 0.0171)]

for i, (rect, core, fringe, unit, blue, base, xt, xl) in enumerate(panels):
    ax = fig.add_axes(rect)
    rx, ry = expand(core, fringe, unit)
    ax.scatter(rx, ry, s=29, color='#ff0000', edgecolors='none', zorder=2)
    ax.scatter([p[0] for p in blue], [p[1] for p in blue], s=72, color='#0000ff',
               edgecolors='none', zorder=3)
    ax.plot([bound_x[i], bound_x[i]], [-50, -30], color='black', linewidth=1.9, zorder=4)
    if i == 0:
        ax.plot(slope_line_a[0], slope_line_a[1], color='black', linewidth=1.6, zorder=4)
    ax.scatter([base[0]], [base[1]], s=135, color='black', edgecolors='none', zorder=5)

    ax.set_xlim(xl)
    ax.set_ylim(-50, -30)
    ax.set_xticks(xt)
    ax.set_xticklabels(['$%g$' % v for v in xt])
    ax.set_yticks(yticks)
    ax.set_yticklabels(['$%d$' % v for v in yticks])
    ax.set_ylabel(r'$-\mathrm{NPV}\ [\$\ \mathrm{MM}]$', fontsize=16, labelpad=2)

    ax.spines['top'].set_visible(False)
    ax.spines['right'].set_visible(False)
    for side in ['left', 'bottom']:
        ax.spines[side].set_linewidth(0.6)
    ax.tick_params(axis='both', which='major', direction='in', length=4, width=0.6,
                   labelsize=16, top=False, right=False)
    ax.tick_params(axis='x', pad=9)
    ax.tick_params(axis='y', pad=5)

    fig.text(cap_pos[i][0], cap_pos[i][1], '$\\mathrm{%s}$' % captions[i],
             fontsize=19, ha='center', va='center')

fig.savefig('out.png', dpi=100)
